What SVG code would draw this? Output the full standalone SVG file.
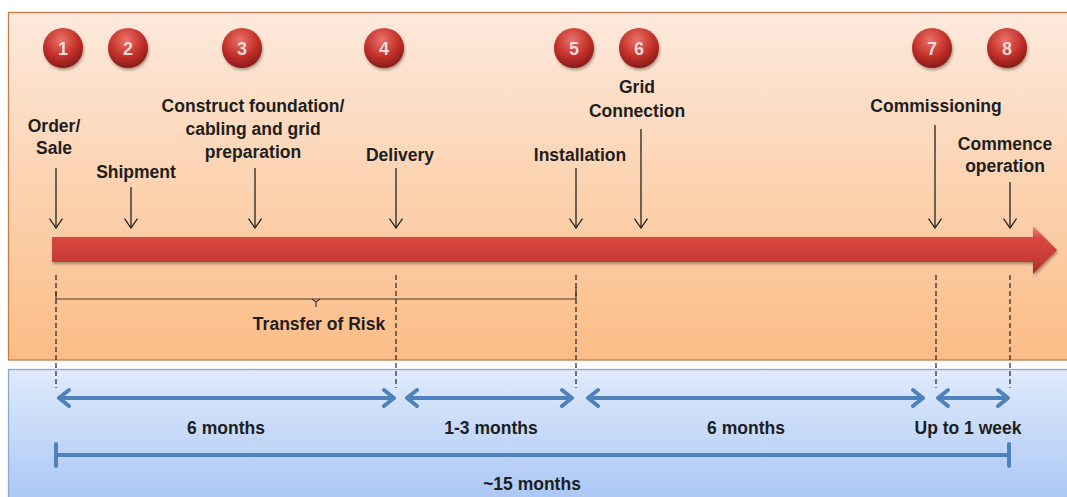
<svg xmlns="http://www.w3.org/2000/svg" width="1067" height="497" viewBox="0 0 1067 497">
  <defs>
    <linearGradient id="peach" x1="0" y1="0" x2="0" y2="1">
      <stop offset="0" stop-color="#fde9dc"/>
      <stop offset="1" stop-color="#fbbd86"/>
    </linearGradient>
    <linearGradient id="sky" x1="0" y1="0" x2="0" y2="1">
      <stop offset="0" stop-color="#e0ebfc"/>
      <stop offset="1" stop-color="#a7c4f4"/>
    </linearGradient>
    <linearGradient id="bar" x1="0" y1="0" x2="0" y2="1">
      <stop offset="0" stop-color="#f38a80"/>
      <stop offset="0.25" stop-color="#d8473f"/>
      <stop offset="0.75" stop-color="#c43a34"/>
      <stop offset="1" stop-color="#9e2a25"/>
    </linearGradient>
    <radialGradient id="ball" cx="0.45" cy="0.3" r="0.75">
      <stop offset="0" stop-color="#e97369"/>
      <stop offset="0.55" stop-color="#c4312b"/>
      <stop offset="1" stop-color="#7e1714"/>
    </radialGradient>
    <filter id="soft" x="-30%" y="-30%" width="160%" height="170%">
      <feGaussianBlur in="SourceAlpha" stdDeviation="1.5"/>
      <feOffset dx="1" dy="2" result="b"/>
      <feComponentTransfer><feFuncA type="linear" slope="0.35"/></feComponentTransfer>
      <feMerge><feMergeNode/><feMergeNode in="SourceGraphic"/></feMerge>
    </filter>
    <!-- open V head, drawn pointing along +x so orient="auto" follows the line -->
    <marker id="vee" viewBox="0 0 11 14" refX="10" refY="7" markerWidth="11" markerHeight="14" markerUnits="userSpaceOnUse" orient="auto">
      <path d="M0.5,0.5 L10,7 L0.5,13.5" fill="none" stroke="#222" stroke-width="1.3"/>
    </marker>
    <style>
      .lbl { font-family: "Liberation Sans", Arial, sans-serif; font-weight: bold; font-size: 17.5px; fill: #1e1e1e; text-anchor: middle; }
      .num { font-family: "Liberation Sans", Arial, sans-serif; font-weight: bold; font-size: 18px; fill: #eedcdc; text-anchor: middle; }
      .drop { stroke: #222; stroke-width: 1.3; fill: none; }
      .dash { stroke: #222; stroke-width: 1.2; stroke-dasharray: 5 3; fill: none; }
      .span { stroke: #4f81bd; stroke-width: 4; fill: none; stroke-linecap: round; stroke-linejoin: round; }
      .brace { stroke: #4a3a2c; stroke-width: 1.2; fill: none; }
    </style>
  </defs>

  <!-- background panels -->
  <rect x="0" y="0" width="1067" height="497" fill="#ffffff"/>
  <rect id="phase-panel" x="8.5" y="12.5" width="1075" height="347.5" fill="url(#peach)" stroke="#c47e45" stroke-width="1.3"/>
  <rect id="duration-panel" x="8.5" y="369.5" width="1075" height="140" fill="url(#sky)" stroke="#86a9d6" stroke-width="1.3"/>

  <!-- main timeline arrow -->
  <path id="timeline" d="M52,237 L1033,237 L1033,226 L1057,250 L1033,274 L1033,262 L52,262 Z" fill="url(#bar)" filter="url(#soft)"/>

  <!-- milestone markers -->
  <g id="m1" filter="url(#soft)"><circle cx="63" cy="48" r="20" fill="url(#ball)"/><text class="num" x="63" y="55">1</text></g>
  <g id="m2" filter="url(#soft)"><circle cx="128" cy="48" r="20" fill="url(#ball)"/><text class="num" x="128" y="55">2</text></g>
  <g id="m3" filter="url(#soft)"><circle cx="242" cy="48" r="20" fill="url(#ball)"/><text class="num" x="242" y="55">3</text></g>
  <g id="m4" filter="url(#soft)"><circle cx="384" cy="48" r="20" fill="url(#ball)"/><text class="num" x="384" y="55">4</text></g>
  <g id="m5" filter="url(#soft)"><circle cx="574" cy="48" r="20" fill="url(#ball)"/><text class="num" x="574" y="55">5</text></g>
  <g id="m6" filter="url(#soft)"><circle cx="639" cy="48" r="20" fill="url(#ball)"/><text class="num" x="639" y="55">6</text></g>
  <g id="m7" filter="url(#soft)"><circle cx="932" cy="48" r="20" fill="url(#ball)"/><text class="num" x="932" y="55">7</text></g>
  <g id="m8" filter="url(#soft)"><circle cx="1007" cy="48" r="20" fill="url(#ball)"/><text class="num" x="1007" y="55">8</text></g>

  <!-- milestone labels -->
  <g id="order"><text class="lbl" x="54" y="132">Order/</text><text class="lbl" x="54" y="154">Sale</text></g>
  <g id="shipment"><text class="lbl" x="136" y="178">Shipment</text></g>
  <g id="construct"><text class="lbl" x="253" y="112">Construct foundation/</text><text class="lbl" x="253" y="135">cabling and grid</text><text class="lbl" x="253" y="158">preparation</text></g>
  <g id="delivery"><text class="lbl" x="400" y="161">Delivery</text></g>
  <g id="installation"><text class="lbl" x="580" y="161">Installation</text></g>
  <g id="grid"><text class="lbl" x="637" y="93">Grid</text><text class="lbl" x="637" y="117">Connection</text></g>
  <g id="commissioning"><text class="lbl" x="936" y="112">Commissioning</text></g>
  <g id="commence"><text class="lbl" x="1005" y="150">Commence</text><text class="lbl" x="1005" y="172">operation</text></g>

  <!-- connectors -->
  <g id="connectors">
    <line class="drop" x1="56" y1="168" x2="56" y2="228" marker-end="url(#vee)"/>
    <line class="drop" x1="131" y1="187" x2="131" y2="228" marker-end="url(#vee)"/>
    <line class="drop" x1="255" y1="168" x2="255" y2="228" marker-end="url(#vee)"/>
    <line class="drop" x1="396" y1="168" x2="396" y2="228" marker-end="url(#vee)"/>
    <line class="drop" x1="576" y1="168" x2="576" y2="228" marker-end="url(#vee)"/>
    <line class="drop" x1="641" y1="129" x2="641" y2="228" marker-end="url(#vee)"/>
    <line class="drop" x1="935" y1="125" x2="935" y2="228" marker-end="url(#vee)"/>
    <line class="drop" x1="1010" y1="182" x2="1010" y2="228" marker-end="url(#vee)"/>

    <!-- guide lines -->
    <line class="dash" x1="56" y1="275" x2="56" y2="388"/>
    <line class="dash" x1="396" y1="275" x2="396" y2="388"/>
    <line class="dash" x1="576" y1="275" x2="576" y2="388"/>
    <line class="dash" x1="936" y1="275" x2="936" y2="388"/>
    <line class="dash" x1="1010" y1="275" x2="1010" y2="388"/>

    <!-- transfer of risk brace -->
    <path class="brace" d="M56,292 L56,299 L576,299 L576,287"/>
    <path class="brace" d="M312,299 L316,302 L320,299 M316,302 L316,307"/>

    <!-- duration spans -->
    <path class="span" d="M59,398 L394,398 M69,390 L59,398 L69,406 M384,390 L394,398 L384,406"/>
    <path class="span" d="M407,398 L572,398 M417,390 L407,398 L417,406 M562,390 L572,398 L562,406"/>
    <path class="span" d="M588,398 L923,398 M598,390 L588,398 L598,406 M913,390 L923,398 L913,406"/>
    <path class="span" d="M938,398 L1008,398 M948,390 L938,398 L948,406 M998,390 L1008,398 L998,406"/>
    <path class="span" d="M56,455 L1009,455 M56,444 L56,466 M1009,444 L1009,466" stroke-linecap="butt"/>
  </g>

  <!-- span labels -->
  <g id="risk"><text class="lbl" x="319" y="330">Transfer of Risk</text></g>
  <g id="d1"><text class="lbl" x="226" y="434">6 months</text></g>
  <g id="d2"><text class="lbl" x="491" y="434">1-3 months</text></g>
  <g id="d3"><text class="lbl" x="746" y="434">6 months</text></g>
  <g id="d4"><text class="lbl" x="968" y="434">Up to 1 week</text></g>
  <g id="total"><text class="lbl" x="532" y="490">~15 months</text></g>
</svg>
